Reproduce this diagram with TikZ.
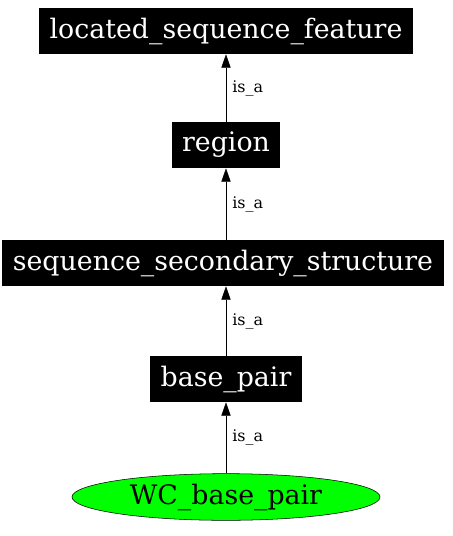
\documentclass[tikz,border=0pt]{standalone}
\usepackage{fontspec}
\setmainfont{DejaVu Serif}
\usetikzlibrary{arrows.meta,shapes.geometric}

\begin{document}
\begin{tikzpicture}[x=0.75pt,y=-0.75pt,
  semithick,
  term/.style={rectangle,fill=black,text=white,inner xsep=7.9pt,inner ysep=0pt,
    minimum height=34.5pt,font=\fontsize{20.1}{24}\selectfont},
  leaf/.style={ellipse,draw=black,thin,fill=green,inner sep=0pt,minimum width=231pt,
    minimum height=35pt,font=\fontsize{20.1}{24}\selectfont},
  isa/.style={thin,-{Triangle[length=10pt,width=7pt]}},
  lab/.style={right,inner sep=4.5pt,font=\fontsize{12}{14}\selectfont}
]
\useasboundingbox (0,0) rectangle (453,536);
\node[term] (lsf) at (226,31) {located\_sequence\_feature};
\node[term] (region) at (226,145) {region};
\node[term] (sss) at (223,263) {sequence\_secondary\_structure};
\node[term] (bp) at (226,379) {base\_pair};
\node[leaf] (wc) at (226,497) {WC\_base\_pair};

\draw[isa] (wc) -- (bp) node[midway,lab] {is\_a};
\draw[isa] (bp) -- (bp |- sss.south) node[midway,lab] {is\_a};
\draw[isa] (region |- sss.north) -- (region) node[midway,lab] {is\_a};
\draw[isa] (region) -- (lsf) node[midway,lab] {is\_a};
\end{tikzpicture}
\end{document}
